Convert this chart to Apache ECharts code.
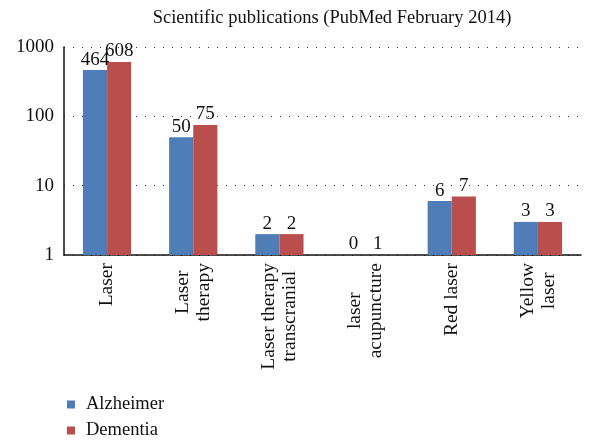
<!DOCTYPE html>
<html>
<head>
<meta charset="utf-8">
<script src="https://cdn.jsdelivr.net/npm/echarts@6/dist/echarts.min.js"></script>
<style>
  html, body { margin: 0; padding: 0; background: #fff; }
  #main { width: 594px; height: 441px; }
</style>
</head>
<body>
<div id="main"></div>
<script>
// categories (line breaks as in the original axis labels)
var categories = ['Laser', 'Laser\ntherapy', 'Laser therapy\ntranscranial', 'laser\nacupuncture', 'Red laser', 'Yellow\nlaser'];
var alzheimer = [464, 50, 2, 0, 6, 3];
var dementia = [608, 75, 2, 1, 7, 3];
var yTicks = [1, 10, 100, 1000];

var FONT = 'Liberation Serif';

// log axis can't show 0, so the bar sits on the baseline (1) and the label keeps the raw count
function toItems(arr) {
  return arr.map(function (v) {
    return { value: Math.max(v, 1), raw: v };
  });
}

function barSeries(name, arr, color) {
  return {
    name: name,
    type: 'bar',
    data: toItems(arr),
    barGap: '0%',
    barCategoryGap: '44%',
    itemStyle: { color: color },
    label: {
      show: true,
      position: 'top',
      distance: 1,
      color: '#111',
      fontFamily: FONT,
      fontSize: 19,
      formatter: function (p) { return p.data.raw; }
    }
  };
}

var myChart = echarts.init(document.getElementById('main'));
var option = {
  animation: false,
  title: {
    text: 'Scientific publications (PubMed February 2014)',
    left: 327,
    textAlign: 'center',
    top: 4,
    textStyle: { color: '#111', fontFamily: FONT, fontSize: 18.5, fontWeight: 'normal' }
  },
  legend: {
    orient: 'vertical',
    left: 62,
    top: 390,
    height: 50,
    itemWidth: 8,
    itemHeight: 8,
    itemGap: 7,
    icon: 'rect',
    textStyle: { color: '#111', fontFamily: FONT, fontSize: 18.5, padding: [0, 0, 0, 6] },
    data: ['Alzheimer', 'Dementia']
  },
  grid: { left: 64, right: 13, top: 47, bottom: 186, containLabel: false },
  xAxis: {
    type: 'category',
    data: categories,
    axisLine: { lineStyle: { color: '#111', width: 1.5 } },
    axisTick: { show: false },
    axisLabel: {
      interval: 0,
      rotate: 90,
      margin: 8,
      formatter: function (v) {
        return v.split('\n').map(function (s) { return '{a|' + s + '}'; }).join('\n');
      },
      rich: {
        a: { align: 'center', fontFamily: FONT, fontSize: 19.5, color: '#111', lineHeight: 21 }
      }
    }
  },
  yAxis: {
    type: 'log',
    logBase: 10,
    min: yTicks[0],
    max: yTicks[yTicks.length - 1],
    axisLine: { show: true, lineStyle: { color: '#111', width: 1.5 } },
    axisTick: { show: false },
    axisLabel: {
      color: '#111', fontFamily: FONT, fontSize: 19, margin: 10,
      formatter: function (v) { return String(v); }
    },
    splitLine: { show: true, lineStyle: { color: '#333', width: 1.2, type: [1, 8] } }
  },
  series: [
    barSeries('Alzheimer', alzheimer, '#4F7DB8'),
    barSeries('Dementia', dementia, '#BA4E4C')
  ]
};
option && myChart.setOption(option);
</script>
</body>
</html>
